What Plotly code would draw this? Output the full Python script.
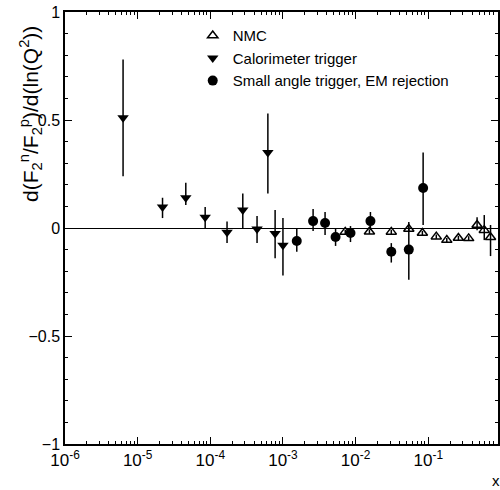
import plotly.graph_objects as go

# Calorimeter trigger (filled down triangles)
cal_x = [6.3e-6, 2.2e-5, 4.6e-5, 8.5e-5, 1.7e-4, 2.8e-4, 4.4e-4, 6.2e-4, 7.8e-4, 1.0e-3]
cal_y = [0.51, 0.097, 0.14, 0.05, -0.02, 0.083, -0.005, 0.35, -0.025, -0.08]
cal_hi = [0.78, 0.14, 0.21, 0.097, 0.03, 0.16, 0.055, 0.53, 0.083, 0.046]
cal_lo = [0.24, 0.046, 0.107, 0.0, -0.07, 0.0, -0.07, 0.16, -0.14, -0.22]

# Small angle trigger, EM rejection (filled circles)
sa_x = [1.55e-3, 2.6e-3, 3.8e-3, 5.3e-3, 8.5e-3, 1.6e-2, 3.1e-2, 5.4e-2, 8.5e-2]
sa_y = [-0.06, 0.032, 0.023, -0.042, -0.023, 0.032, -0.11, -0.10, 0.185]
sa_hi = [0.0, 0.088, 0.074, 0.0, 0.009, 0.074, -0.07, 0.028, 0.35]
sa_lo = [-0.11, -0.014, -0.032, -0.083, -0.065, -0.009, -0.16, -0.24, 0.014]

# NMC (open up triangles)
nmc_x = [7.2e-3, 1.55e-2, 3.1e-2, 5.4e-2, 8.3e-2, 0.129, 0.18, 0.26, 0.36, 0.47, 0.59, 0.72]
nmc_y = [-0.018, -0.017, -0.018, -0.005, -0.023, -0.04, -0.056, -0.046, -0.048, 0.014, -0.01, -0.043]
nmc_hi = [-0.008, -0.007, -0.008, 0.005, -0.013, -0.03, -0.046, -0.036, -0.038, 0.05, 0.06, 0.014]
nmc_lo = [-0.028, -0.027, -0.028, -0.015, -0.033, -0.05, -0.066, -0.056, -0.058, -0.01, -0.056, -0.13]

xticks = [1e-6, 1e-5, 1e-4, 1e-3, 1e-2, 1e-1]
xtick_text = ["10<sup>-6</sup>", "10<sup>-5</sup>", "10<sup>-4</sup>", "10<sup>-3</sup>", "10<sup>-2</sup>", "10<sup>-1</sup>"]
yticks = [-1, -0.5, 0, 0.5, 1]
ytick_text = ["\u22121", "\u22120.5", "0", "0.5", "1"]

FONT = "Liberation Sans"


def errs(y, hi, lo):
    return [h - v for v, h in zip(y, hi)], [v - l for v, l in zip(y, lo)]


fig = go.Figure()

p, m = errs(nmc_y, nmc_hi, nmc_lo)
fig.add_trace(go.Scatter(
    x=nmc_x, y=nmc_y, mode="markers", name="NMC",
    marker=dict(symbol="triangle-up-open", size=9, color="black", line=dict(width=1.5)),
    error_y=dict(type="data", array=p, arrayminus=m, width=0, thickness=1.5, color="black"),
))

p, m = errs(cal_y, cal_hi, cal_lo)
fig.add_trace(go.Scatter(
    x=cal_x, y=cal_y, mode="markers", name="Calorimeter trigger",
    marker=dict(symbol="triangle-down", size=10, color="black"),
    error_y=dict(type="data", array=p, arrayminus=m, width=0, thickness=1.5, color="black"),
))

p, m = errs(sa_y, sa_hi, sa_lo)
fig.add_trace(go.Scatter(
    x=sa_x, y=sa_y, mode="markers", name="Small angle trigger, EM rejection",
    marker=dict(symbol="circle", size=10, color="black"),
    error_y=dict(type="data", array=p, arrayminus=m, width=0, thickness=1.5, color="black"),
))

fig.update_layout(
    width=500, height=490,
    margin=dict(l=65, r=0, t=12, b=46),
    paper_bgcolor="white", plot_bgcolor="white",
    font=dict(family=FONT, color="black", size=14),
    showlegend=True,
    legend=dict(x=0.295, y=0.983, xanchor="left", yanchor="top",
                bgcolor="rgba(0,0,0,0)", font=dict(size=15, family=FONT)),
    xaxis=dict(
        type="log", range=[-6, -0.04],
        tickvals=xticks, ticktext=xtick_text,
        ticks="inside", ticklen=7, tickwidth=1, tickcolor="black",
        showline=True, linecolor="black", linewidth=1.5, mirror="allticks",
        showgrid=False, zeroline=False,
        minor=dict(ticks="inside", ticklen=3, tickcolor="black", showgrid=False,
                   tickvals=[k * 10 ** e for e in range(-6, 0) for k in range(2, 10)]),
        tickfont=dict(size=17),
    ),
    yaxis=dict(
        range=[-1, 1],
        tickvals=yticks, ticktext=ytick_text,
        ticks="inside", ticklen=7, tickwidth=1, tickcolor="black",
        showline=True, linecolor="black", linewidth=1.5, mirror="allticks",
        showgrid=False, zeroline=True, zerolinecolor="black", zerolinewidth=1.2,
        minor=dict(ticks="inside", ticklen=3, dtick=0.1, tickcolor="black", showgrid=False),
        tickfont=dict(size=16),
    ),
    annotations=[
        dict(text="d(F<sub>2</sub><sup>n</sup>/F<sub>2</sub><sup>p</sup>)/d(ln(Q<sup>2</sup>))",
             xref="paper", yref="paper", x=-0.08, y=0.765, textangle=-90,
             showarrow=False, font=dict(size=21, family=FONT), xanchor="center", yanchor="middle"),
        dict(text="x", xref="paper", yref="paper", x=0.995, y=-0.085,
             showarrow=False, font=dict(size=15, family=FONT), xanchor="center", yanchor="middle"),
    ],
)

fig.write_html("out.html")
